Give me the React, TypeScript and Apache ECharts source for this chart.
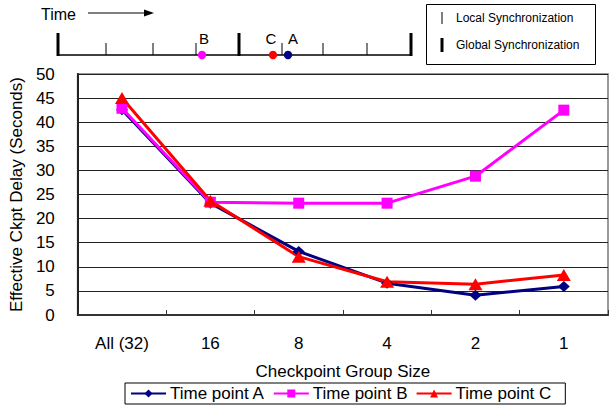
import React, { useEffect, useRef } from "react";
import * as echarts from "echarts";

const categories = ["All (32)", "16", "8", "4", "2", "1"];
const seriesA = [42.6, 23.2, 13.2, 6.6, 4.1, 5.9];
const seriesB = [42.9, 23.4, 23.2, 23.2, 28.8, 42.5];
const seriesC = [45.0, 23.7, 12.1, 6.9, 6.4, 8.3];
const seriesNames = ["Time point A", "Time point B", "Time point C"];
const yTicks = { min: 0, max: 50, interval: 5 };

const FONT = "Liberation Sans, Arial, sans-serif";

export default function App() {
  const ref = useRef<HTMLDivElement>(null);
  useEffect(() => {
    if (!ref.current) return;
    const chart = echarts.init(ref.current, null, { renderer: "svg" });
    const localTicks = [106, 153, 196, 282, 323, 367];
    const globalTicks = [58, 239, 411];
    const graphicEls: any[] = [];
    // Time arrow
    graphicEls.push({
      type: "text",
      left: 41,
      top: 6,
      style: { text: "Time", font: `16px ${FONT}`, fill: "#000" },
    });
    graphicEls.push({
      type: "line",
      shape: { x1: 88, y1: 13, x2: 147, y2: 13 },
      style: { stroke: "#000", lineWidth: 1.2 },
    });
    graphicEls.push({
      type: "polygon",
      shape: { points: [[144, 9.5], [154, 13], [144, 16.5]] },
      style: { fill: "#000" },
    });
    // Timeline
    graphicEls.push({
      type: "line",
      shape: { x1: 58, y1: 55, x2: 411, y2: 55 },
      style: { stroke: "#000", lineWidth: 1.5 },
    });
    localTicks.forEach((x) =>
      graphicEls.push({
        type: "line",
        shape: { x1: x, y1: 43, x2: x, y2: 55 },
        style: { stroke: "#000", lineWidth: 1 },
      })
    );
    globalTicks.forEach((x) =>
      graphicEls.push({
        type: "line",
        shape: { x1: x, y1: 33, x2: x, y2: 56 },
        style: { stroke: "#000", lineWidth: 3 },
      })
    );
    const dots = [
      { x: 202, c: "#FF00FF", label: "B", lx: 204 },
      { x: 273, c: "#FF0000", label: "C", lx: 271 },
      { x: 288, c: "#000080", label: "A", lx: 293 },
    ];
    dots.forEach((d) => {
      graphicEls.push({
        type: "circle",
        shape: { cx: d.x, cy: 55, r: 4.2 },
        style: { fill: d.c },
        z: 10,
      });
      graphicEls.push({
        type: "text",
        x: d.lx,
        y: 38,
        style: {
          text: d.label,
          font: `15px ${FONT}`,
          fill: "#000",
          align: "center",
          verticalAlign: "middle",
        },
      });
    });
    // Top-right legend box
    graphicEls.push({
      type: "rect",
      shape: { x: 426.5, y: 4.5, width: 169, height: 60 },
      style: { fill: "#fff", stroke: "#000", lineWidth: 1 },
    });
    graphicEls.push({
      type: "line",
      shape: { x1: 442, y1: 12, x2: 442, y2: 24 },
      style: { stroke: "#000", lineWidth: 1 },
    });
    graphicEls.push({
      type: "line",
      shape: { x1: 442, y1: 38, x2: 442, y2: 52 },
      style: { stroke: "#000", lineWidth: 3 },
    });
    graphicEls.push({
      type: "text",
      x: 456,
      y: 18,
      style: {
        text: "Local Synchronization",
        font: `12px ${FONT}`,
        fill: "#000",
        verticalAlign: "middle",
      },
    });
    graphicEls.push({
      type: "text",
      x: 456,
      y: 45,
      style: {
        text: "Global Synchronization",
        font: `12px ${FONT}`,
        fill: "#000",
        verticalAlign: "middle",
      },
    });

    const mk = (name: string, data: number[], color: string, symbol: string, size: any) => ({
      name,
      type: "line",
      data,
      symbol,
      symbolSize: size,
      lineStyle: { color, width: 3 },
      itemStyle: { color },
    });

    chart.setOption({
      animation: false,
      textStyle: { fontFamily: FONT },
      grid: {
        left: 70,
        right: 1,
        top: 74,
        bottom: 96,
        show: true,
        borderColor: "#999",
        borderWidth: 2,
        backgroundColor: "transparent",
      },
      legend: {
        left: 125,
        top: 383,
        orient: "horizontal",
        data: seriesNames,
        itemWidth: 35,
        itemHeight: 10,
        itemGap: 8,
        padding: [2, 14, 2, 5],
        borderColor: "#000",
        borderWidth: 1,
        backgroundColor: "#fff",
        textStyle: { fontSize: 17, color: "#000", fontFamily: FONT, padding: [0, 0, 0, -1] },
      },
      xAxis: {
        type: "category",
        data: categories,
        boundaryGap: true,
        axisLine: { lineStyle: { color: "#333", width: 2 } },
        axisTick: { show: true, inside: true, length: 5, lineStyle: { color: "#333" } },
        axisLabel: { fontSize: 17, color: "#000", margin: 20, fontFamily: FONT },
        name: "Checkpoint Group Size",
        nameLocation: "middle",
        nameGap: 48,
        nameTextStyle: { fontSize: 17, color: "#000", fontFamily: FONT },
      },
      yAxis: {
        type: "value",
        min: yTicks.min,
        max: yTicks.max,
        interval: yTicks.interval,
        axisLine: { show: true, lineStyle: { color: "#222", width: 2 } },
        axisTick: { show: false },
        axisLabel: { fontSize: 17, color: "#000", margin: 23, fontFamily: FONT },
        splitLine: { lineStyle: { color: "#222", width: 1 } },
        name: "Effective Ckpt Delay (Seconds)",
        nameLocation: "middle",
        nameGap: 41,
        nameRotate: 90,
        nameTextStyle: { fontSize: 17, color: "#000", fontFamily: FONT },
      },
      series: [
        mk(seriesNames[0], seriesA, "#000080", "diamond", [12, 11]),
        mk(seriesNames[1], seriesB, "#FF00FF", "rect", 11),
        mk(seriesNames[2], seriesC, "#FF0000", "triangle", [14, 12]),
      ],
      graphic: { elements: graphicEls },
    });
    return () => chart.dispose();
  }, []);
  return <div ref={ref} style={{ width: 609, height: 411, position: "absolute", left: 0, top: 0 }} />;
}
